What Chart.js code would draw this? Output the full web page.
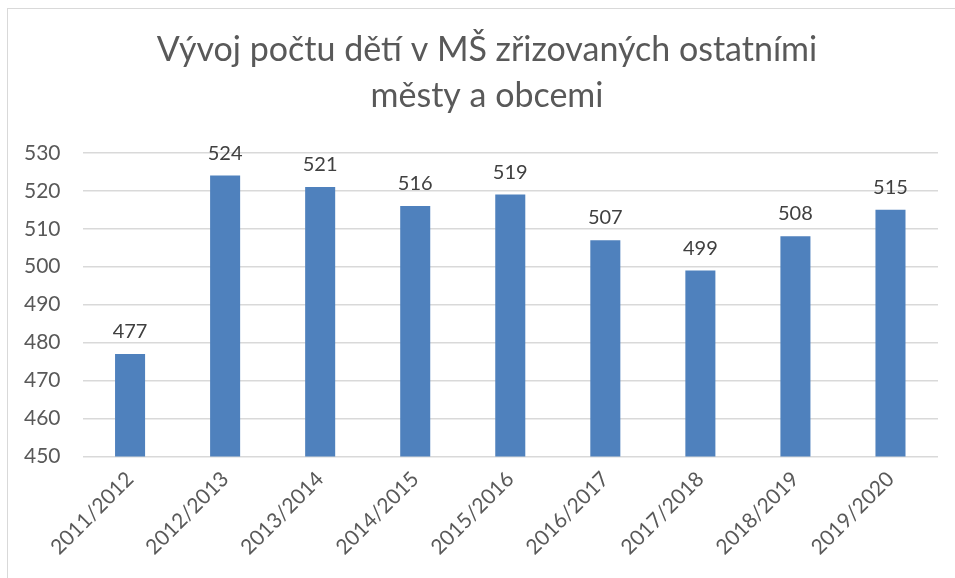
<!DOCTYPE html>
<html>
<head>
<meta charset="utf-8">
<script src="https://cdn.jsdelivr.net/npm/chart.js@4.4.1/dist/chart.umd.min.js"></script>
<style>
  body { margin: 0; background: #fff; }
  #frame { position: absolute; left: 7px; top: 8px; width: 1000px; height: 700px; border: 1px solid #d9d9d9; }
  #wrap { position: absolute; left: 0; top: 0; width: 955px; height: 578px; }
</style>
</head>
<body>
<div id="frame"></div>
<div id="wrap"><canvas id="graf"></canvas></div>
<script>
const roky = ['2011/2012', '2012/2013', '2013/2014', '2014/2015', '2015/2016', '2016/2017', '2017/2018', '2018/2019', '2019/2020'];
const pocty = [477, 524, 521, 516, 519, 507, 499, 508, 515];
const nadpis = ['Vývoj počtu dětí v MŠ zřizovaných ostatními', 'městy a obcemi'];

const font = 'Lato, "Open Sans", sans-serif';

// popisky hodnot nad sloupci
const popisky = {
    id: 'popisky',
    afterLayout(chart) {
        // nadpis je v originale trochu vpravo
        if (chart.titleBlock) {
            chart.titleBlock.left += 17;
            chart.titleBlock.right += 17;
        }
    },
    afterDatasetsDraw(chart) {
        const ctx = chart.ctx;
        const meta = chart.getDatasetMeta(0);
        ctx.save();
        ctx.font = '20px ' + font;
        ctx.fillStyle = '#404040';
        ctx.textAlign = 'center';
        ctx.textBaseline = 'alphabetic';
        meta.data.forEach((bar, i) => {
            ctx.fillText(pocty[i], bar.x, bar.y - 16);
        });
        ctx.restore();
    }
};

const grafico = document.getElementById('graf').getContext('2d');

new Chart(grafico, {
    type: 'bar',
    data: {
        labels: roky,
        datasets: [{
            data: pocty,
            backgroundColor: '#4f81bd',
            categoryPercentage: 1,
            barPercentage: 0.316
        }]
    },
    options: {
        responsive: true,
        maintainAspectRatio: false,
        animation: false,
        layout: { padding: { left: 2, right: 17, top: 10, bottom: 16 } },
        plugins: {
            legend: { display: false },
            tooltip: { enabled: false },
            title: {
                display: true,
                text: nadpis,
                color: '#595959',
                font: { family: font, size: 34, weight: 'normal', lineHeight: 1.35 },
                padding: { top: 17, bottom: 34 }
            }
        },
        scales: {
            x: {
                grid: { display: false },
                border: { display: false },
                ticks: {
                    color: '#595959',
                    font: { family: font, size: 21 },
                    minRotation: 45,
                    maxRotation: 45,
                    padding: 2
                }
            },
            y: {
                min: 450,
                max: 530,
                border: { display: false },
                grid: { color: '#d9d9d9', lineWidth: 1.5, drawTicks: false },
                ticks: {
                    stepSize: 10,
                    color: '#595959',
                    font: { family: font, size: 21 },
                    padding: 22
                }
            }
        }
    },
    plugins: [popisky]
});
</script>
</body>
</html>
